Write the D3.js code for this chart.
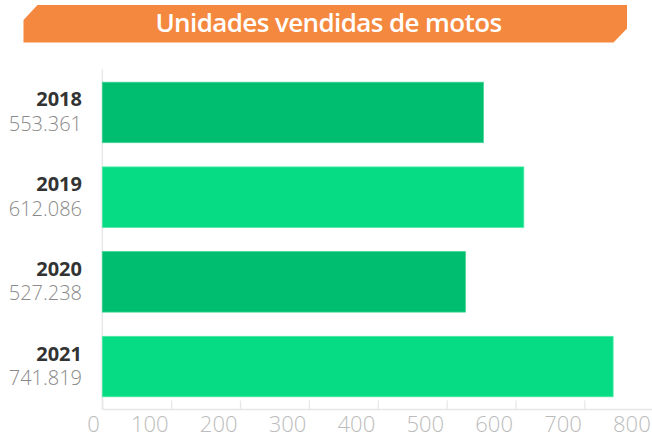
<!DOCTYPE html>
<html>
<head>
<meta charset="utf-8">
<script src="https://cdn.jsdelivr.net/npm/d3@7"></script>
<style>
  body { margin: 0; background: #fff; }
  svg { display: block; font-family: "Open Sans", sans-serif; }
</style>
</head>
<body>
<div id="chart-container"></div>
<script>
// Data
const years = ["2018", "2019", "2020", "2021"];
const units = [553.361, 612.086, 527.238, 741.819]; // thousands
const valueLabels = ["553.361", "612.086", "527.238", "741.819"];
const xTicks = [0, 100, 200, 300, 400, 500, 600, 700, 800];
const title = "Unidades vendidas de motos";

const W = 652, H = 438;
const colors = ["#00be6f", "#05dc84"];

const svg = d3.select("#chart-container")
  .append("svg")
  .attr("width", W)
  .attr("height", H);

// Title banner
const bx0 = 23.5, bx1 = 627, by0 = 5, by1 = 42.5;
svg.append("path")
  .attr("d", `M${bx0},20 L${bx0 + 14},${by0} L${bx1},${by0} L${bx1},28.5 L${bx1 - 13.5},${by1} L${bx0},${by1} Z`)
  .attr("fill", "#f5883f");

svg.append("text")
  .attr("x", 328.5)
  .attr("y", 32.3)
  .attr("text-anchor", "middle")
  .style("font-size", "26px")
  .style("font-weight", 600)
  .style("letter-spacing", "-0.6px")
  .attr("fill", "#fff")
  .text(title);

// Scales
const x = d3.scaleLinear()
  .domain([0, 800])
  .range([102.3, 653.2]);

const y = d3.scaleBand()
  .domain(years)
  .range([69.5, 409.5])
  .paddingInner(0.286)
  .paddingOuter(0.15);

// Left vertical line
svg.append("line")
  .attr("x1", x(0)).attr("x2", x(0))
  .attr("y1", 69.5).attr("y2", 409.5)
  .attr("stroke", "#e8e8e8")
  .attr("stroke-width", 1.5);

// Bars
svg.selectAll(".bar")
  .data(years)
  .join("rect")
  .attr("class", "bar")
  .attr("x", x(0))
  .attr("y", d => y(d))
  .attr("width", (d, i) => x(units[i]) - x(0))
  .attr("height", y.bandwidth())
  .attr("fill", (d, i) => colors[i % 2])
  .attr("stroke", (d, i) => i % 2 ? "#4fe8a6" : "#3fd293")
  .attr("stroke-width", 0.8);

// Year + value labels
svg.selectAll(".year")
  .data(years)
  .join("text")
  .attr("class", "year")
  .attr("x", 82)
  .attr("y", d => y(d) + y.bandwidth() / 2 - 6)
  .attr("text-anchor", "end")
  .style("font-size", "20px")
  .style("font-weight", 700)
  .attr("fill", "#333")
  .text(d => d);

svg.selectAll(".val")
  .data(years)
  .join("text")
  .attr("class", "val")
  .attr("x", 82)
  .attr("y", d => y(d) + y.bandwidth() / 2 + 18.5)
  .attr("text-anchor", "end")
  .style("font-size", "20px")
  .style("font-weight", 300)
  .attr("fill", "#8a8a8a")
  .text((d, i) => valueLabels[i]);

// X axis
const axis = svg.append("g")
  .attr("transform", "translate(0,409.5)")
  .call(d3.axisBottom(x).tickValues(xTicks).tickSize(0).tickFormat(d3.format("d")));

axis.select(".domain")
  .attr("d", `M${x(0)},0H${W}`)
  .attr("stroke", "#e6e6e6")
  .attr("stroke-width", 1.5);

axis.selectAll(".tick line")
  .attr("y1", -9).attr("y2", 0)
  .attr("stroke", "#e6e6e6")
  .attr("stroke-width", 1.2);

axis.selectAll(".tick text")
  .attr("x", -3)
  .attr("y", 22)
  .attr("dy", 0)
  .attr("text-anchor", "end")
  .style("font-size", "22px")
  .style("font-family", "'Open Sans', sans-serif")
  .style("font-weight", 300)
  .attr("fill", "#bcbcbc");
</script>
</body>
</html>
